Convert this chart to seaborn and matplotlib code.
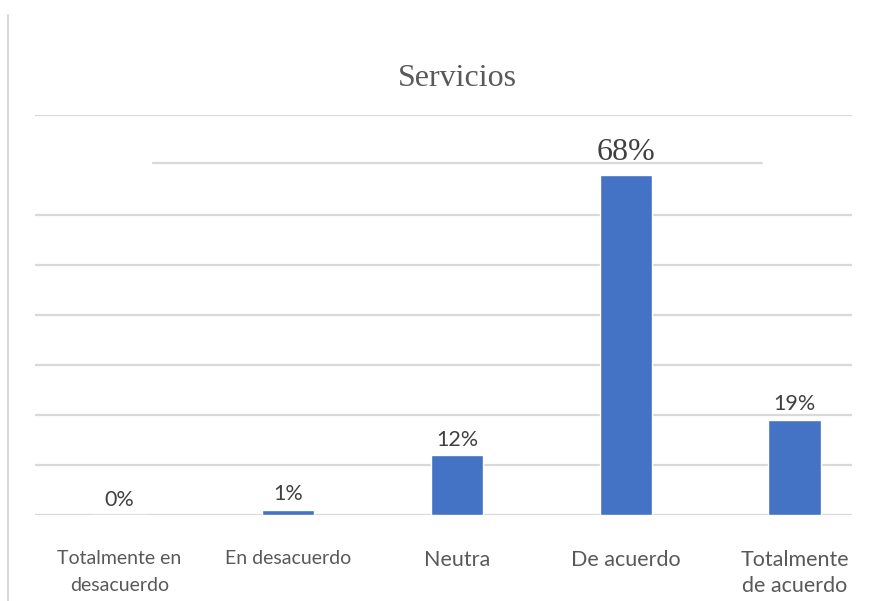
import matplotlib
matplotlib.use("Agg")
import matplotlib.pyplot as plt
import seaborn as sns
import pandas as pd
from matplotlib.lines import Line2D

categorias = ["Totalmente en\ndesacuerdo", "En desacuerdo", "Neutra", "De acuerdo", "Totalmente\nde acuerdo"]
porcentajes = [0, 1, 12, 68, 19]
etiquetas = ["0%", "1%", "12%", "68%", "19%"]
titulo = "Servicios"

sns.set_theme(style="white")
plt.rcParams["font.family"] = ["Lato", "DejaVu Sans"]

df = pd.DataFrame({"categoria": categorias, "valor": porcentajes})

fig = plt.figure(figsize=(8.92, 6.01), dpi=100)
ax = fig.add_axes([35 / 892, 1 - 515 / 601, (852 - 35) / 892, 400 / 601])

sns.barplot(data=df, x="categoria", y="valor", color="#4472C4", width=0.31,
            saturation=1, ax=ax, zorder=3)

ax.set_ylim(0, 80)
ax.set_xlim(-0.5, 4.34)

# horizontal gridlines
grid_color = "#d9d9d9"
for v in range(0, 81, 10):
    if v == 70:
        ax.axhline(v + 0.4, xmin=(153 - 35) / 817, xmax=(762 - 35) / 817,
                   color=grid_color, lw=1.6, zorder=1)
    else:
        ax.axhline(v, color=grid_color, lw=1.6, zorder=1)

for s in ax.spines.values():
    s.set_visible(False)
ax.set_yticks([])
ax.set_xticks([])
ax.set_xlabel("")
ax.set_ylabel("")

text_color = "#595959"
label_sizes = [14, 14, 15.5, 15.5, 15.5]
line_sp = [1.72, 1.72, 1.36, 1.36, 1.36]
for i, (cat, sz, ls) in enumerate(zip(categorias, label_sizes, line_sp)):
    ax.text(i, -7.0, cat, ha="center", va="top", fontsize=sz, color=text_color,
            linespacing=ls)

for i, (v, lab) in enumerate(zip(porcentajes, etiquetas)):
    if v == 68:
        ax.text(i, v + 1.7, lab, ha="center", va="bottom", fontsize=23,
                color="#404040", family=["Liberation Serif"])
    else:
        ax.text(i, v + 1.1, lab, ha="center", va="bottom", fontsize=15.5,
                color="#404040")

fig.text(457 / 892, 1 - 79 / 601, titulo, ha="center", va="center",
         fontsize=23, color=text_color, family=["Liberation Serif"])

fig.add_artist(Line2D([8 / 892, 8 / 892], [0, 1 - 15 / 601],
                      color="#d9d9d9", lw=1.5, transform=fig.transFigure))

fig.savefig("out.png", dpi=100, facecolor="white")
